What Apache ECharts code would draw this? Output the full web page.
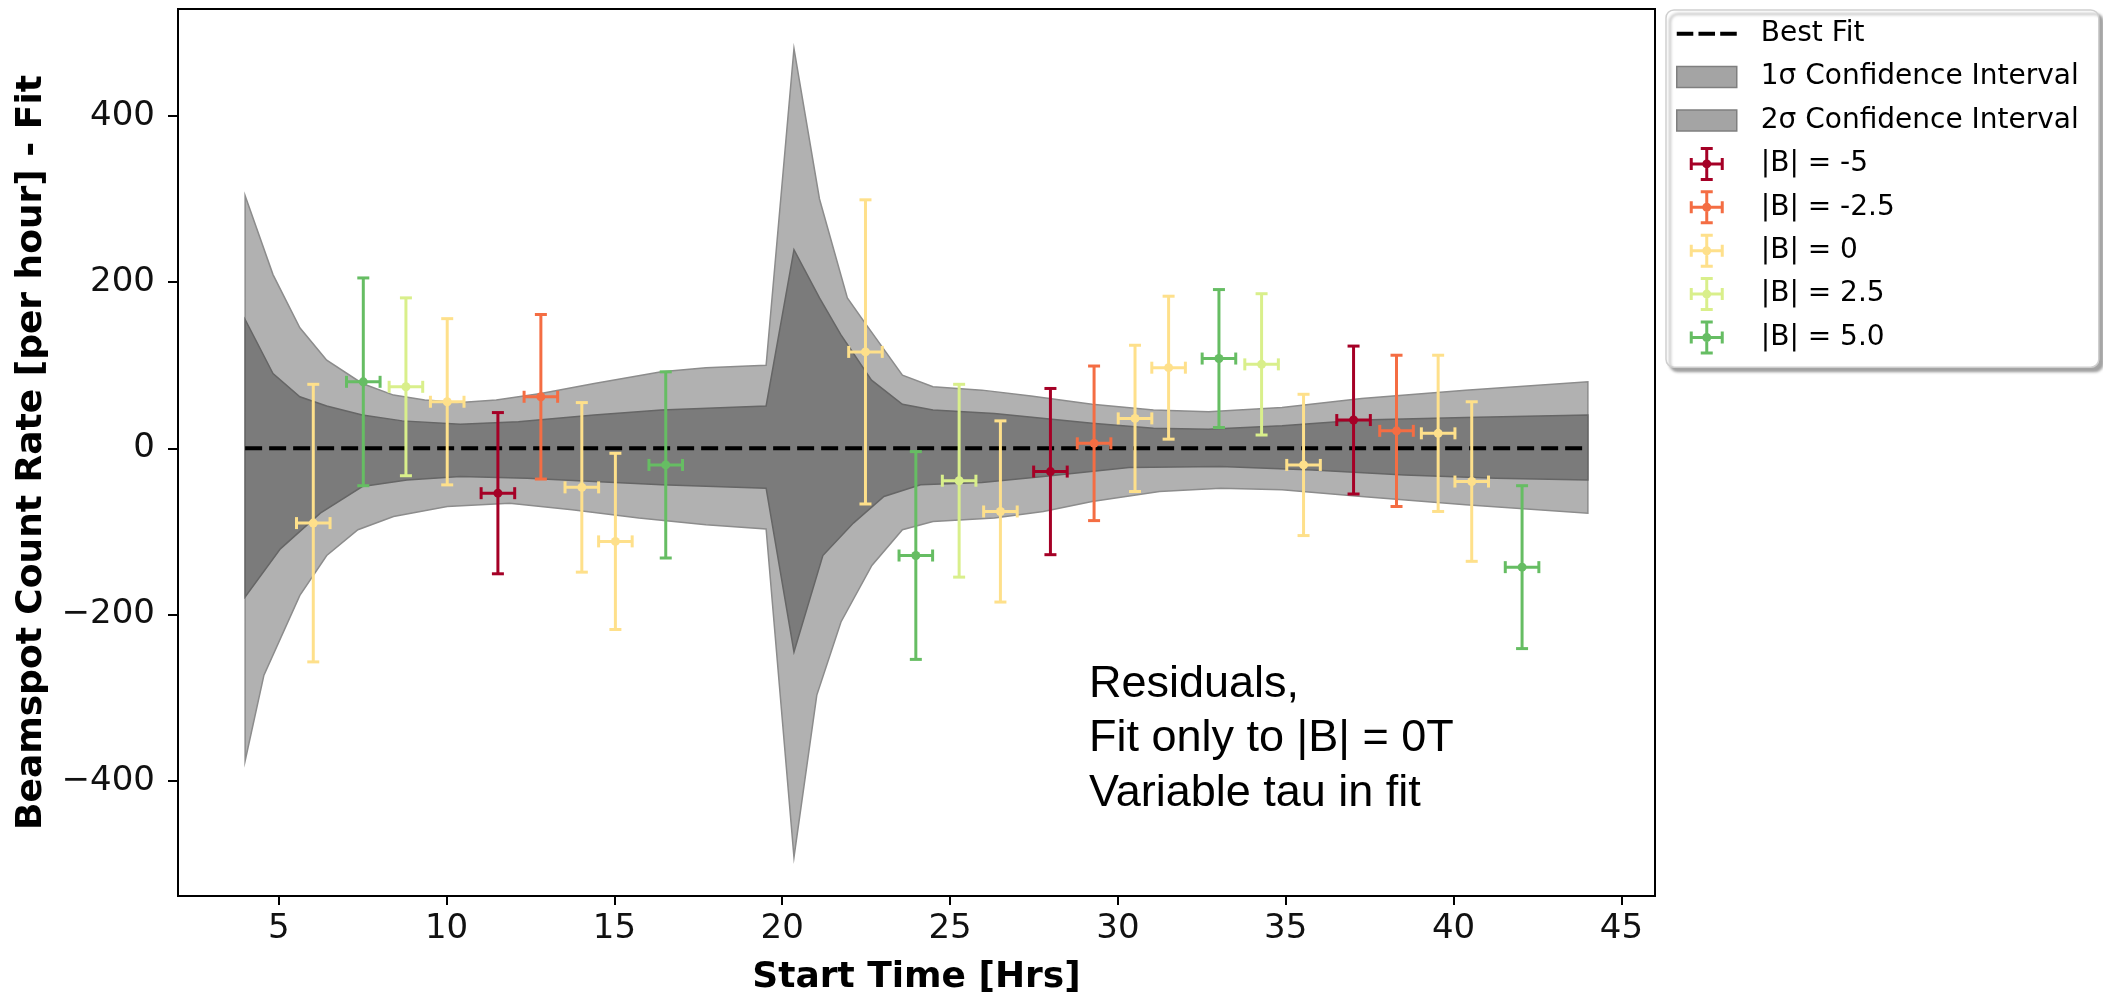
<!DOCTYPE html>
<html>
<head>
<meta charset="utf-8">
<script src="https://cdn.jsdelivr.net/npm/echarts@6/dist/echarts.min.js"></script>
<style>
html,body{margin:0;padding:0;background:#fff;}
#chart{width:2103px;height:1001px;}
</style>
</head>
<body>
<div id="chart"></div>
<script>
// ---- tick labels ----
const xTicks = [5, 10, 15, 20, 25, 30, 35, 40, 45];
const yTicks = [-400, -200, 0, 200, 400];

// ---- best fit line ----
const fitX = [4, 44];
const fitY = [0, 0];

// ---- confidence bands [time, value] ----
const band2Upper = [[4,304],[4.83,209],[5.63,145],[6.43,106],[7.49,78],[8.42,64],[9.35,58],[10.41,55],[11.48,58],[12.81,66],[14.4,78],[16.4,92],[17.73,97],[19.52,100],[20.35,481],[21.11,300],[21.94,181],[22.48,150],[23.58,88],[24.49,74],[25.95,70],[27.41,63],[29.23,53],[31.06,46],[32.7,44],[34.89,49],[37.26,60],[40.36,70],[44,80]];
const band2Lower = [[4,-376],[4.56,-273],[5.63,-177],[6.43,-129],[7.36,-98],[8.42,-82],[10.02,-70],[11.88,-66],[13.74,-74],[15.73,-84],[17.73,-92],[19.52,-97],[20.35,-492],[21.03,-297],[21.75,-209],[22.67,-141],[23.58,-98],[24.49,-88],[26.32,-84],[27.78,-76],[29.23,-64],[31.24,-52],[33.06,-48],[34.89,-50],[37.26,-58],[40.36,-68],[44,-78]];
const band1Upper = [[4,155],[4.83,90],[5.63,62],[6.43,51],[7.49,40],[8.68,33],[10.41,29],[12.14,32],[14.4,40],[16.4,46],[19.52,51],[20.35,239],[21.11,181],[21.74,137],[22.66,82],[23.58,53],[24.49,46],[26.32,42],[29.23,30],[31.06,24],[32.7,23],[34.89,27],[37.26,34],[40.36,37],[44,40]];
const band1Lower = [[4,-179],[5.05,-121],[6.24,-78],[7.49,-46],[8.82,-38],[10.41,-34],[12.4,-36],[14.4,-40],[16.4,-44],[19.52,-48],[20.35,-245],[21.21,-129],[22.12,-90],[23.03,-58],[24.12,-44],[25.95,-41],[27.78,-34],[30.33,-23],[33.06,-22],[35.8,-26],[38.54,-32],[41.27,-36],[44,-38]];

// ---- residual points [time, residual, xerr, yerr] ----
const bMinus5   = [[11.53,-54,0.5,97],[27.99,-28,0.5,100],[37.02,34,0.5,89]];
const bMinus2_5 = [[12.81,62,0.5,99],[29.29,6,0.5,93],[38.3,21,0.5,91]];
const bZero     = [[6.03,-90,0.5,167],[10.02,56,0.5,100],[14.03,-47,0.5,102],[15.03,-112,0.5,106],[22.48,116,0.5,183],[26.5,-76,0.5,109],[30.51,36,0.5,88],[31.51,97,0.5,86],[35.53,-20,0.5,85],[39.54,18,0.5,94],[40.54,-40,0.5,96]];
const bPlus2_5  = [[8.79,74,0.5,107],[25.27,-39,0.5,116],[34.28,101,0.5,85]];
const bPlus5    = [[7.52,80,0.5,125],[16.53,-20,0.5,112],[23.98,-129,0.5,125],[33.01,108,0.5,83],[42.04,-143,0.5,98]];

const groupNames = ['|B| = -5', '|B| = -2.5', '|B| = 0', '|B| = 2.5', '|B| = 5.0'];
const groupData = [bMinus5, bMinus2_5, bZero, bPlus2_5, bPlus5];
const groupColors = ['#a50026', '#f46d43', '#fee08b', '#d9ef8b', '#66bd63'];

const chart = echarts.init(document.getElementById('chart'), null, {renderer: 'canvas'});

function bandRenderer(upper, lower, fill, stroke) {
  return function (params, api) {
    if (params.dataIndex !== 0) return null;
    const pts = upper.map(p => api.coord(p)).concat(lower.slice().reverse().map(p => api.coord(p)));
    return {
      type: 'polygon',
      shape: {points: pts},
      style: {fill: fill, stroke: stroke, lineWidth: 1.5}
    };
  };
}

function errRenderer(params, api) {
  const x = api.value(0), y = api.value(1), xe = api.value(2), ye = api.value(3);
  const c = api.coord([x, y]);
  const t = api.coord([x, y + ye]);
  const b = api.coord([x, y - ye]);
  const l = api.coord([x - xe, y]);
  const r = api.coord([x + xe, y]);
  const color = api.visual('color');
  const st = {stroke: color, lineWidth: 3, fill: null};
  const cap = 6;
  return {
    type: 'group',
    children: [
      {type: 'line', shape: {x1: c[0], y1: t[1], x2: c[0], y2: b[1]}, style: st},
      {type: 'line', shape: {x1: c[0] - cap, y1: t[1], x2: c[0] + cap, y2: t[1]}, style: st},
      {type: 'line', shape: {x1: c[0] - cap, y1: b[1], x2: c[0] + cap, y2: b[1]}, style: st},
      {type: 'line', shape: {x1: l[0], y1: c[1], x2: r[0], y2: c[1]}, style: st},
      {type: 'line', shape: {x1: l[0], y1: c[1] - cap, x2: l[0], y2: c[1] + cap}, style: st},
      {type: 'line', shape: {x1: r[0], y1: c[1] - cap, x2: r[0], y2: c[1] + cap}, style: st},
      {type: 'circle', shape: {cx: c[0], cy: c[1], r: 4.5}, style: {fill: color}}
    ]
  };
}

const crossIcon = 'path://M15.5,1.5h3v31h-3z M11,0h12v3h-12z M11,31h12v3h-12z M1.5,15.5h31v3h-31z M0,11h3v12h-3z M31,11h3v12h-3z M12.5,17a4.5,4.5 0 1,1 9,0a4.5,4.5 0 1,1 -9,0z';
const dashIcon = 'path://M0,0h16v4h-16z M21,0h16v4h-16z M42,0h16v4h-16z';
const rectIcon = 'path://M0,0h60v21h-60z';

const series = [
  {
    name: '2σ Confidence Interval', type: 'custom', z: 1,
    data: band2Upper, encode: {x: 0, y: 1},
    itemStyle: {color: '#a7a7a7'},
    renderItem: bandRenderer(band2Upper, band2Lower, '#b1b1b1', '#8c8c8c')
  },
  {
    name: '1σ Confidence Interval', type: 'custom', z: 2,
    data: band1Upper, encode: {x: 0, y: 1},
    itemStyle: {color: '#a7a7a7'},
    renderItem: bandRenderer(band1Upper, band1Lower, '#7b7b7b', '#666666')
  },
  {
    name: 'Best Fit', type: 'line', z: 3, symbol: 'none',
    data: fitX.map((x, i) => [x, fitY[i]]),
    lineStyle: {color: '#000', width: 4, type: [17, 7]},
    itemStyle: {color: '#000'}
  }
];
groupNames.forEach((n, i) => {
  series.push({
    name: n, type: 'custom', z: 4,
    data: groupData[i], encode: {x: 0, y: 1},
    itemStyle: {color: groupColors[i]},
    renderItem: errRenderer
  });
});

const legendData = [
  {name: 'Best Fit', icon: dashIcon, itemStyle: {color: '#000', borderWidth: 0}},
  {name: '1σ Confidence Interval', icon: rectIcon, itemStyle: {color: '#a4a4a4', borderColor: '#7f7f7f', borderWidth: 1.5}},
  {name: '2σ Confidence Interval', icon: rectIcon, itemStyle: {color: '#a4a4a4', borderColor: '#7f7f7f', borderWidth: 1.5}}
].concat(groupNames.map((n, i) => ({name: n, icon: crossIcon, itemStyle: {color: groupColors[i], borderWidth: 0}})));

const tickFont = {fontSize: 34, fontFamily: 'DejaVu Sans', color: '#111'};
const nameFont = {fontSize: 36, fontWeight: 'bold', fontFamily: 'DejaVu Sans', color: '#000'};

chart.setOption({
  animation: false,
  backgroundColor: '#fff',
  grid: {left: 178, right: 448, top: 9, bottom: 97, show: true, borderColor: '#000', borderWidth: 2, backgroundColor: 'transparent'},
  xAxis: {
    type: 'value', min: 2, max: 46,
    axisLine: {show: true, onZero: false, lineStyle: {color: '#000', width: 2}},
    axisTick: {show: true, customValues: xTicks, length: 9, lineStyle: {color: '#000', width: 2}},
    axisLabel: Object.assign({customValues: xTicks, margin: 16}, tickFont),
    splitLine: {show: false},
    name: 'Start Time [Hrs]', nameLocation: 'middle', nameGap: 64, nameTextStyle: nameFont
  },
  yAxis: {
    type: 'value', min: -538.7, max: 528.6,
    axisLine: {show: true, onZero: false, lineStyle: {color: '#000', width: 2}},
    axisTick: {show: true, customValues: yTicks, length: 10, lineStyle: {color: '#000', width: 2}},
    axisLabel: Object.assign({customValues: yTicks, margin: 23, formatter: v => (v < 0 ? '\u2212' + Math.abs(v) : String(v))}, tickFont),
    splitLine: {show: false},
    name: 'Beamspot Count Rate [per hour] - Fit', nameLocation: 'middle', nameGap: 128, nameTextStyle: nameFont
  },
  legend: {
    orient: 'vertical', left: 1666, top: 10,
    padding: [2, 20, 8, 10],
    itemWidth: 60, itemHeight: 34, itemGap: 0,
    backgroundColor: '#fff', borderColor: '#cfcfcf', borderWidth: 1.5, borderRadius: 8,
    shadowColor: 'rgba(0,0,0,0.35)', shadowBlur: 3, shadowOffsetX: 4, shadowOffsetY: 4,
    textStyle: {fontSize: 28, fontFamily: 'DejaVu Sans', color: '#000', lineHeight: 43.4, padding: [0, 0, 0, 19]},
    selectedMode: false,
    data: legendData
  },
  graphic: [{
    type: 'text', left: 1089, top: 657, z: 10,
    style: {
      text: 'Residuals,\nFit only to |B| = 0T\nVariable tau in fit',
      font: '45px "Liberation Sans"', fill: '#000', lineHeight: 54.5
    }
  }],
  series: series
});
</script>
</body>
</html>
